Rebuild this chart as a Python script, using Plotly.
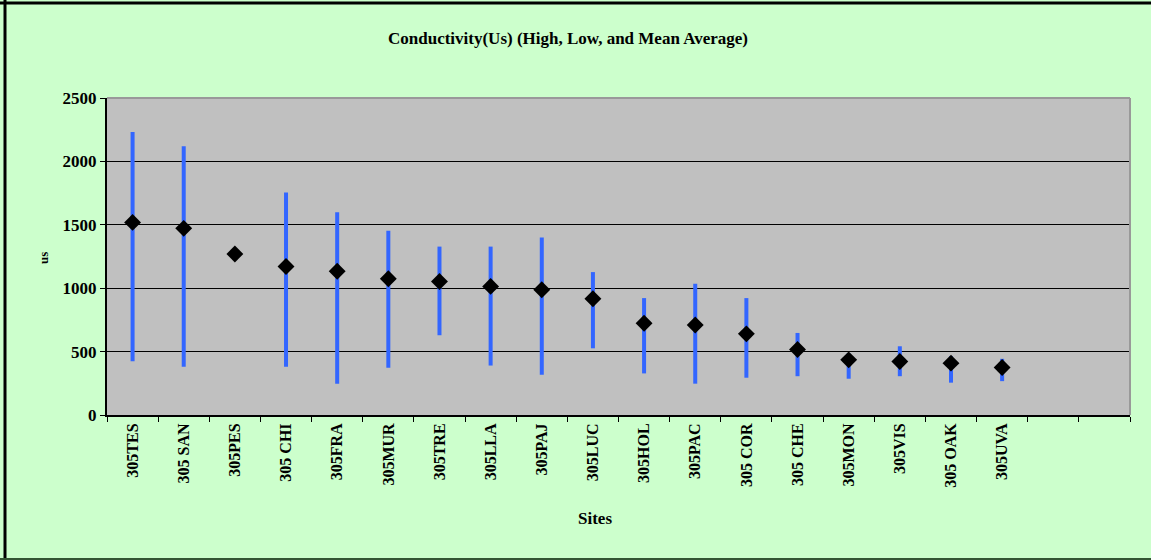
import plotly.graph_objects as go

sites = ["305TES", "305 SAN", "305PES", "305 CHI", "305FRA", "305MUR", "305TRE", "305LLA",
         "305PAJ", "305LUC", "305HOL", "305PAC", "305 COR", "305 CHE", "305MON", "305VIS",
         "305 OAK", "305UVA"]
empty_slots = [" ", "  "]
mean_vals = [1519, 1472, 1270, 1171, 1134, 1074, 1053, 1014, 988, 917, 723, 710, 640, 516, 435, 422, 409, 375]
high_vals = [2231, 2119, 1270, 1755, 1598, 1454, 1328, 1328, 1399, 1127, 922, 1035, 922, 647, 485, 542, 464, 443]
low_vals = [424, 380, 1270, 380, 247, 372, 629, 390, 317, 526, 328, 247, 294, 306, 286, 306, 255, 267]
y_ticks = [0, 500, 1000, 1500, 2000, 2500]

err_plus = [h - m for h, m in zip(high_vals, mean_vals)]
err_minus = [m - l for m, l in zip(mean_vals, low_vals)]

W, H = 1151, 560
ML, MR, MT, MB = 107, 21, 98, 145
PW, PH = W - ML - MR, H - MT - MB

def px(xp):
    return (xp - ML) / PW

def py(yp):
    return 1 - (yp - MT) / PH

font_fam = "Liberation Serif, Times New Roman, serif"

fig = go.Figure()
fig.add_trace(go.Scatter(
    x=sites, y=mean_vals, mode="markers",
    marker=dict(symbol="diamond", size=13, color="black"),
    error_y=dict(type="data", symmetric=False, array=err_plus, arrayminus=err_minus,
                 color="#3366FF", thickness=4, width=0),
    showlegend=False,
))

fig.update_layout(
    width=W, height=H,
    margin=dict(l=ML, r=MR, t=MT, b=MB, pad=0),
    paper_bgcolor="#CCFFCC",
    plot_bgcolor="#C0C0C0",
    font=dict(family=font_fam, color="black"),
    title=dict(text="<b>Conductivity(Us) (High, Low, and Mean Average)</b>",
               x=568 / W, xanchor="center", y=1 - 38 / H, yanchor="middle",
               font=dict(size=17, family=font_fam)),
    xaxis=dict(
        type="category",
        categoryorder="array", categoryarray=sites + empty_slots,
        range=[-0.5, len(sites) + len(empty_slots) - 0.5],
        tickangle=-90, tickfont=dict(size=16, family=font_fam),
        ticks="outside", ticklen=5, tickcolor="black", tickson="boundaries",
        showline=True, linecolor="black", linewidth=2,
        showgrid=False, mirror=False,
        tickprefix="<b>", ticksuffix="</b>",
    ),
    yaxis=dict(
        range=[0, 2500], tickvals=y_ticks,
        ticktext=["<b>%d</b>" % v for v in y_ticks],
        tickfont=dict(size=17, family=font_fam),
        ticks="outside", ticklen=5, tickcolor="black",
        showline=True, linecolor="black", linewidth=2,
        showgrid=True, gridcolor="black", gridwidth=1,
        zeroline=False,
    ),
    annotations=[
        dict(text="<b>Sites</b>", x=px(595), y=py(518), xref="paper", yref="paper",
             showarrow=False, font=dict(size=17, family=font_fam), xanchor="center", yanchor="middle"),
        dict(text="<b>us</b>", x=px(43), y=py(258), xref="paper", yref="paper", textangle=-90,
             showarrow=False, font=dict(size=13, family=font_fam), xanchor="center", yanchor="middle"),
    ],
    shapes=[
        dict(type="line", xref="paper", yref="paper", x0=0, x1=1, y0=1, y1=1,
             line=dict(color="#999999", width=2)),
        dict(type="line", xref="paper", yref="paper", x0=1, x1=1, y0=0, y1=1,
             line=dict(color="#999999", width=2)),
        dict(type="line", xref="paper", yref="paper", x0=px(0), x1=px(W), y0=py(3), y1=py(3),
             line=dict(color="black", width=3)),
        dict(type="line", xref="paper", yref="paper", x0=px(5), x1=px(5), y0=py(0), y1=py(H),
             line=dict(color="black", width=3)),
        dict(type="line", xref="paper", yref="paper", x0=px(0), x1=px(W), y0=py(559), y1=py(559),
             line=dict(color="#335533", width=2)),
    ],
)

fig.write_html("out.html", config={"displayModeBar": False},
               post_script="document.body.style.margin='0';document.body.style.overflow='hidden';")
